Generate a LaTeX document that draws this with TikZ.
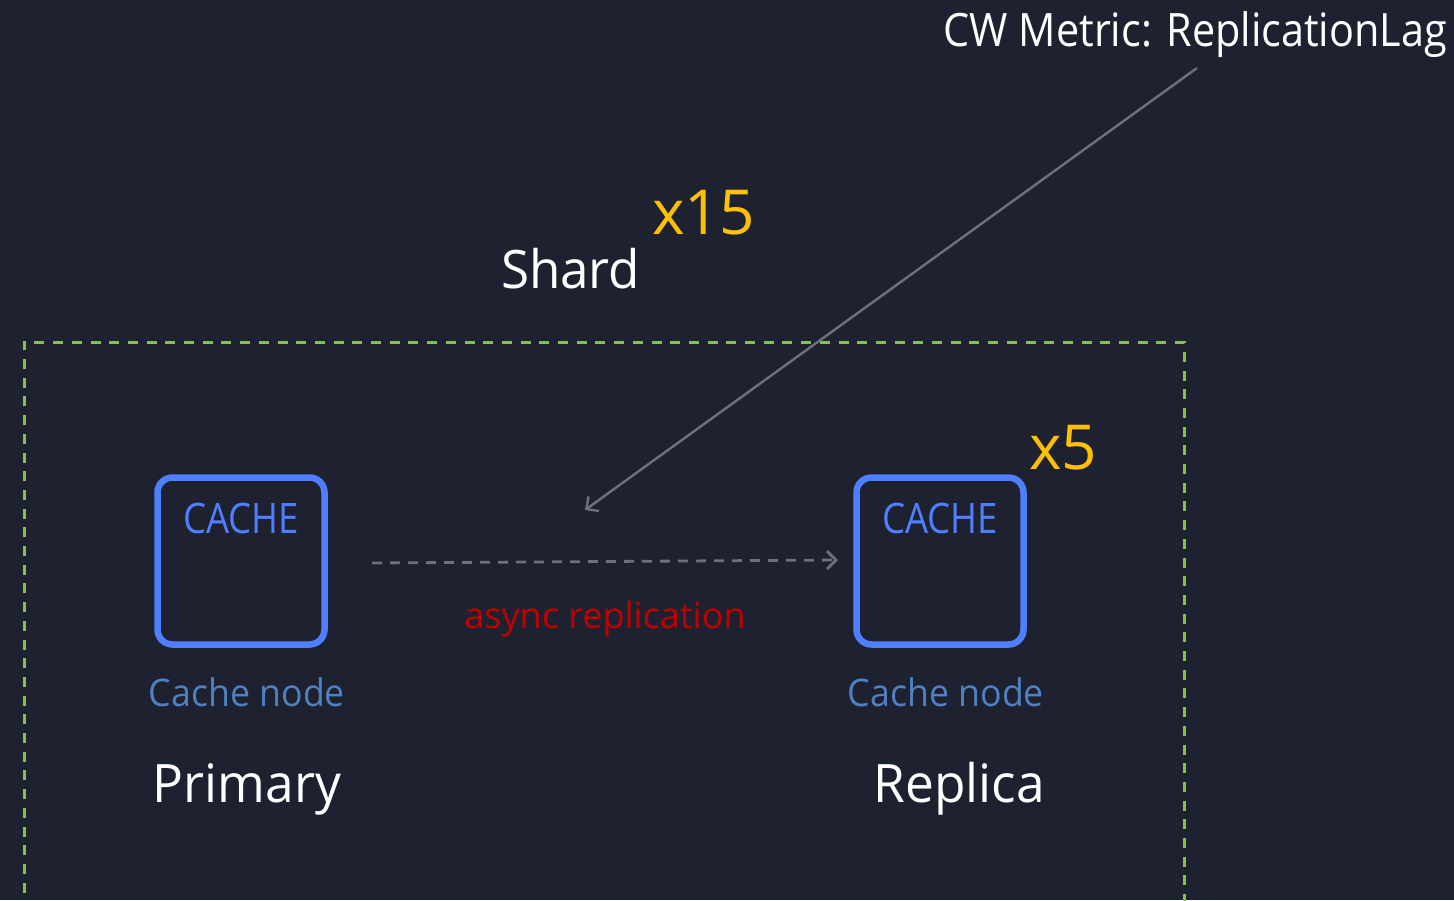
\documentclass[tikz,border=0pt]{standalone}
\usepackage{fontspec}
\setmainfont{Open Sans}
\usetikzlibrary{arrows.meta}
\definecolor{bg}{HTML}{1E2230}
\definecolor{shardgreen}{HTML}{85C248}
\definecolor{cacheblue}{HTML}{4F7FFF}
\definecolor{nodeblue}{HTML}{4F80C0}
\definecolor{countyellow}{HTML}{FFC000}
\definecolor{linkgray}{HTML}{6C717B}
\definecolor{asyncred}{HTML}{C00000}
\newcommand{\fs}[1]{\fontsize{#1}{#1}\selectfont}
\newcommand{\squeeze}[2]{\scalebox{#1}[1]{#2}}
\tikzset{
  lbl/.style={inner sep=0pt, outer sep=0pt, anchor=base},
  cachebox/.style={draw=cacheblue, line width=6.5pt, rounded corners=15pt,
    minimum width=167pt, minimum height=167pt, inner sep=0pt},
  cachetag/.style={lbl, text=cacheblue, font=\fs{42}},
  nodecap/.style={lbl, text=nodeblue, font=\fs{38}},
  rolecap/.style={lbl, text=white, font=\fs{53}},
  countcap/.style={lbl, anchor=base west, text=countyellow, font=\fs{62}},
  link/.style={draw=linkgray, line width=2.8pt, -{Straight Barb[length=9pt,width=18pt]}},
}
\begin{document}
\begin{tikzpicture}[x=1pt,y=-1pt]
\fill[bg] (0,0) rectangle (1454,900);
\useasboundingbox (0,0) rectangle (1454,900);

% shard boundary (continues below the frame)
\draw[shardgreen, line width=3pt, dash pattern=on 10pt off 8.7pt]
  (24,930) -- (24,342) -- (1184,342) -- (1184,930);

% shard title and count
\node[lbl, anchor=base west, text=white, font=\fs{53}] (shard) at (501,288) {\squeeze{0.965}{Shard}};
\node[countcap] (shardcount) at (652,234) {x15};

% primary node
\node[cachebox] (primary) at (241,561) {};
\node[cachetag] (primarytag) at (241,533) {\squeeze{0.87}{CACHE}};
\node[nodecap] (primarycap) at (247,706) {\squeeze{0.94}{Cache node}};
\node[rolecap] (primaryrole) at (247,802) {\squeeze{0.97}{Primary}};

% replica node
\node[cachebox] (replica) at (940,561) {};
\node[cachetag] (replicatag) at (940,533) {\squeeze{0.87}{CACHE}};
\node[nodecap] (replicacap) at (946,706) {\squeeze{0.94}{Cache node}};
\node[rolecap] (replicarole) at (959,802) {\squeeze{0.97}{Replica}};
\node[countcap] (replicacount) at (1029,469) {x5};

% replication link
\coordinate (repfrom) at (372,563);
\coordinate (repto) at (838,560);
\draw[link, dash pattern=on 10pt off 8pt] (repfrom) -- (repto);
\node[lbl, text=asyncred, font=\fs{36}] (async) at (605,628) {async replication};

% metric callout
\node[lbl, anchor=base east, text=white, font=\fs{46}] (metric) at (1447,46) {\squeeze{0.9}{CW Metric: ReplicationLag}};
\coordinate (metricfoot) at (1197,68);
\coordinate (metrictip) at (585,510);
\draw[link, line width=2.4pt] (metricfoot) -- (metrictip);
\end{tikzpicture}
\end{document}
